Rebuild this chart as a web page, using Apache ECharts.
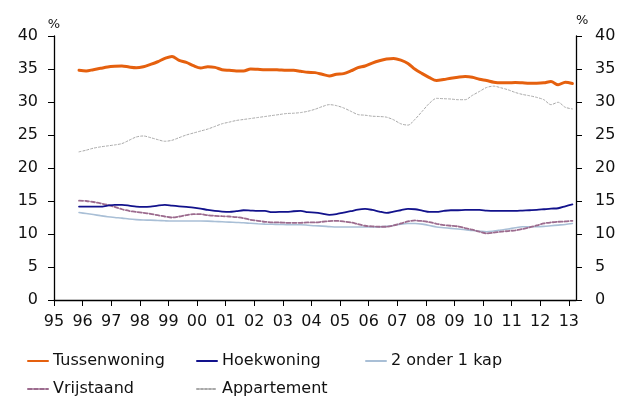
<!DOCTYPE html>
<html>
<head>
<meta charset="utf-8">
<script src="https://cdn.jsdelivr.net/npm/echarts@6/dist/echarts.min.js"></script>
<style>
  html, body { margin: 0; padding: 0; background: #fff; }
  #chart { width: 619px; height: 396px; }
</style>
</head>
<body>
<div id="chart"></div>
<script>
// Quarterly shares (%) per dwelling type, 1995 Q4 – 2013 Q1
const firstYear = 1995, firstQuarter = 4, quarterCount = 70;

const tussenwoning = [
  34.8, 34.7, 34.9, 35.1, 35.3, 35.4, 35.45, 35.3, 35.2, 35.35,
  35.7, 36.1, 36.6, 36.9, 36.3, 36.0, 35.5, 35.15, 35.35, 35.25,
  34.9, 34.8, 34.7, 34.7, 35.0, 34.95, 34.9, 34.9, 34.85, 34.8,
  34.8, 34.65, 34.5, 34.45, 34.2, 33.95, 34.2, 34.3, 34.7, 35.2,
  35.45, 35.9, 36.25, 36.5, 36.6, 36.35, 35.85, 34.95, 34.3, 33.7,
  33.25, 33.4, 33.6, 33.75, 33.85, 33.75, 33.45, 33.25, 33.0, 32.9,
  32.9, 32.95, 32.9, 32.85, 32.85, 32.9, 33.1, 32.6, 33.0, 32.8
];
const hoekwoning = [
  14.15, 14.15, 14.15, 14.15, 14.3, 14.4, 14.4, 14.3, 14.15, 14.1,
  14.15, 14.3, 14.4, 14.3, 14.2, 14.1, 14.0, 13.85, 13.65, 13.5,
  13.4, 13.35, 13.45, 13.6, 13.55, 13.5, 13.5, 13.3, 13.35, 13.35,
  13.45, 13.5, 13.3, 13.25, 13.1, 12.9, 13.0, 13.25, 13.45, 13.7,
  13.8, 13.65, 13.4, 13.2, 13.4, 13.6, 13.8, 13.75, 13.55, 13.35,
  13.35, 13.5, 13.6, 13.6, 13.65, 13.65, 13.65, 13.55, 13.5, 13.5,
  13.5, 13.5, 13.55, 13.6, 13.65, 13.75, 13.85, 13.9, 14.2, 14.5
];
const tweeOnderEenKap = [
  13.25, 13.1, 12.95, 12.78, 12.62, 12.5, 12.4, 12.27, 12.18, 12.12,
  12.1, 12.05, 12.0, 11.97, 11.97, 11.97, 11.97, 11.97, 11.95, 11.9,
  11.85, 11.8, 11.75, 11.7, 11.62, 11.55, 11.5, 11.47, 11.45, 11.42,
  11.4, 11.4, 11.33, 11.25, 11.2, 11.12, 11.05, 11.05, 11.05, 11.05,
  11.05, 11.05, 11.08, 11.15, 11.3, 11.5, 11.6, 11.6, 11.5, 11.3,
  11.05, 10.95, 10.85, 10.75, 10.65, 10.52, 10.42, 10.35, 10.45, 10.6,
  10.75, 10.95, 11.1, 11.1, 11.1, 11.15, 11.25, 11.35, 11.45, 11.6
];
const vrijstaand = [
  15.05, 15.0, 14.85, 14.65, 14.4, 14.1, 13.75, 13.5, 13.35, 13.2,
  13.05, 12.85, 12.65, 12.5, 12.65, 12.85, 13.0, 13.0, 12.85, 12.75,
  12.7, 12.65, 12.55, 12.4, 12.15, 12.0, 11.85, 11.75, 11.75, 11.7,
  11.7, 11.7, 11.75, 11.75, 11.85, 11.95, 12.0, 11.9, 11.75, 11.5,
  11.25, 11.15, 11.1, 11.1, 11.3, 11.6, 11.9, 12.05, 11.95, 11.8,
  11.55, 11.35, 11.25, 11.15, 10.9, 10.65, 10.35, 10.1, 10.2, 10.35,
  10.45, 10.55, 10.75, 11.0, 11.3, 11.6, 11.75, 11.85, 11.9, 12.0
];
const appartement = [
  22.45, 22.7, 23.0, 23.2, 23.35, 23.5, 23.7, 24.2, 24.7, 24.85,
  24.6, 24.3, 24.05, 24.2, 24.6, 25.0, 25.3, 25.6, 25.9, 26.3,
  26.7, 26.95, 27.2, 27.35, 27.5, 27.65, 27.8, 27.95, 28.1, 28.25,
  28.3, 28.4, 28.6, 28.9, 29.3, 29.6, 29.45, 29.1, 28.6, 28.1,
  28.0, 27.85, 27.8, 27.7, 27.3, 26.7, 26.5, 27.4, 28.6, 29.8,
  30.55, 30.5, 30.45, 30.35, 30.35, 31.0, 31.6, 32.2, 32.4, 32.15,
  31.85, 31.45, 31.15, 30.95, 30.7, 30.35, 29.6, 29.95, 29.2, 28.95
];

const yearTicks = [1995, 1996, 1997, 1998, 1999, 2000, 2001, 2002, 2003, 2004,
                   2005, 2006, 2007, 2008, 2009, 2010, 2011, 2012, 2013];

// Quarter labels and their mid-quarter positions on the year axis
const quarters = [];
for (let i = 0; i < quarterCount; i++) {
  const n = (firstQuarter - 1) + i;
  quarters.push({ year: firstYear + Math.floor(n / 4), q: (n % 4) + 1 });
}
const quarterPos = quarters.map(d => d.year + (d.q - 1) / 4 + 0.125);
const pairs = vals => vals.map((v, i) => [quarterPos[i], v]);

const FONT = 'DejaVu Sans';
const INK = '#111';

const seriesDefs = [
  { name: 'Tussenwoning', data: tussenwoning, color: '#E5600E', width: 3, type: 'solid', z: 6 },
  { name: 'Hoekwoning', data: hoekwoning, color: '#12128C', width: 1.8, type: 'solid', z: 5 },
  { name: '2 onder 1 kap', data: tweeOnderEenKap, color: '#A9BFD6', width: 1.6, type: 'solid', z: 3 },
  { name: 'Vrijstaand', data: vrijstaand, color: '#9C6B8E', width: 1.8, type: [4, 2], z: 4 },
  { name: 'Appartement', data: appartement, color: '#A8A8A8', width: 1, type: [2, 2], z: 2 }
];

const legendSlots = [
  { left: 27, top: 352 }, { left: 196, top: 352 }, { left: 365, top: 352 },
  { left: 27, top: 380 }, { left: 196, top: 380 }
];

const yAxisBase = {
  type: 'value', min: 0, max: 40, interval: 5,
  splitLine: { show: false },
  axisLine: { show: true, lineStyle: { color: '#000', width: 1.3 } },
  axisTick: { show: true, length: 6, lineStyle: { color: '#000', width: 1 } },
  axisLabel: { color: INK, fontFamily: FONT, fontSize: 16 },
  name: '%',
  nameLocation: 'end',
  nameTextStyle: { color: INK, fontFamily: FONT, fontSize: 13 }
};

const chart = echarts.init(document.getElementById('chart'), null, { renderer: 'canvas' });
chart.setOption({
  animation: false,
  backgroundColor: '#fff',
  grid: { left: 54, right: 43, top: 36, bottom: 96, containLabel: false, outerBoundsMode: 'none' },
  xAxis: {
    type: 'value', min: 1995, max: 2013.25, interval: 1,
    splitLine: { show: false },
    axisLine: { show: true, onZero: false, lineStyle: { color: '#000', width: 1.3 } },
    axisTick: { show: true, length: 6, customValues: yearTicks, lineStyle: { color: '#000', width: 1 } },
    axisLabel: {
      customValues: yearTicks,
      color: INK, fontFamily: FONT, fontSize: 16, margin: 14,
      formatter: v => String(Math.round(v) % 100).padStart(2, '0')
    }
  },
  yAxis: [
    Object.assign({}, yAxisBase, {
      position: 'left', nameGap: 5,
      axisLabel: Object.assign({}, yAxisBase.axisLabel, { margin: 16 }),
      nameTextStyle: Object.assign({}, yAxisBase.nameTextStyle, { align: 'center' })
    }),
    Object.assign({}, yAxisBase, {
      position: 'right', nameGap: 9,
      axisLabel: Object.assign({}, yAxisBase.axisLabel, { margin: 19 }),
      nameTextStyle: Object.assign({}, yAxisBase.nameTextStyle, { align: 'left' })
    })
  ],
  // one legend block per entry, laid out in three columns
  legend: seriesDefs.map((s, i) => ({
    data: [s.name],
    orient: 'horizontal',
    left: legendSlots[i].left,
    top: legendSlots[i].top,
    padding: 0,
    itemWidth: 20,
    itemHeight: 14,
    itemStyle: { opacity: 0 },
    selectedMode: false,
    textStyle: { color: INK, fontFamily: FONT, fontSize: 16, lineHeight: 18 }
  })),
  series: seriesDefs.map(s => ({
    name: s.name,
    type: 'line',
    yAxisIndex: 0,
    data: pairs(s.data),
    showSymbol: false,
    symbol: 'none',
    smooth: 0.3,
    z: s.z,
    color: s.color,
    lineStyle: { color: s.color, width: s.width, type: s.type, cap: 'round' },
    emphasis: { disabled: true }
  }))
});
</script>
</body>
</html>
